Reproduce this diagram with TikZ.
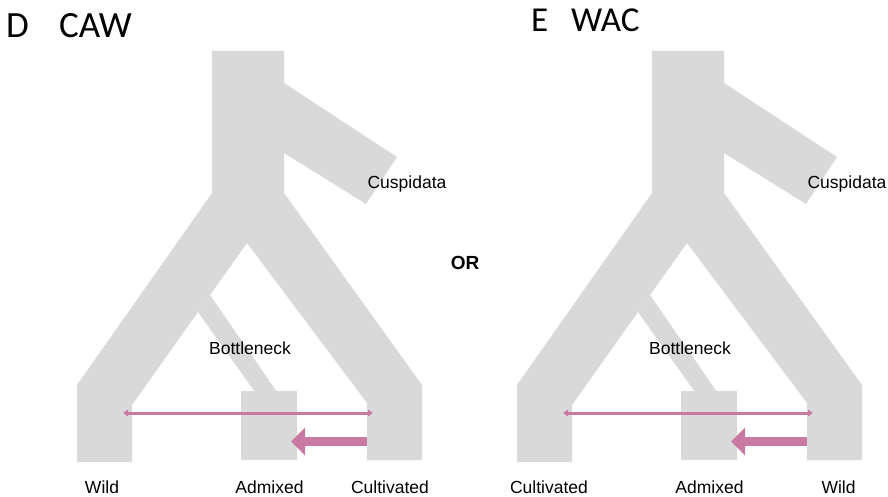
\documentclass[tikz,border=0pt]{standalone}
\usepackage{fontspec}
\setmainfont{Liberation Sans}
\newfontfamily\titlefont{Carlito}
\usetikzlibrary{positioning, arrows.meta}
\definecolor{branchgrey}{RGB}{217,217,217}
\definecolor{flowpink}{RGB}{200,122,162}
\tikzset{
	every node/.style ={anchor=base},
	branch/.style= {
		fill=branchgrey,
		draw=none
	},
	pop/.style= {
		font=\fontsize{17.5}{20}\selectfont
	},
	title/.style= {
		font=\titlefont\fontsize{37}{40}\selectfont,
		anchor=base west,
		inner sep=0
	},
	gene/.style={flowpink, line width=3pt, {Latex[length=5pt,width=8pt]}-{Latex[length=5pt,width=8pt]}},
	admix/.style={flowpink, line width=9pt, -{Triangle[length=14pt,width=27pt]}},
}

\begin{document}
\begin{tikzpicture}[x=1pt, y=-1pt]
	\useasboundingbox (0,0) rectangle (888,497);
	
	\node (labelD)[title] at (6,38) {D};
	\node (nameD)[title] at (59,38) {CAW};
	\node (labelE)[title, font=\titlefont\fontsize{35}{38}\selectfont] at (531,32) {E};
	\node (nameE)[title, font=\titlefont\fontsize{35}{38}\selectfont] at (571,32) {WAC};
	\node (or)[font=\bfseries\fontsize{19}{22}\selectfont] at (465,269) {OR};
	
	\foreach \p/\dx/\lname/\rname/\lx/\rx in {D/0/Wild/Cultivated/102/390, E/440/Cultivated/Wild/109/398.5}
	{
		\begin{scope}[shift={(\dx,0)}]
		% tree
		\fill[branch] (212,51) -- (284,51) -- (284,193) -- (422,385) -- (422,460) -- (367,460) -- (367,403) -- (247,243) -- (132,405) -- (132,462) -- (77,462) -- (77,385) -- (212,193) -- cycle;
		\fill[branch] (284,83) -- (397,157) -- (366,204) -- (284,153) -- cycle;
		\fill[branch] (210,295) -- (277,392) -- (255,392) -- (198,312) -- cycle;
		\fill[branch] (241,391) rectangle (297,460);
		
		\node (cusp\p)[pop] at (407,189) {Cuspidata};
		\node (bottle\p)[pop] at (250,354) {Bottleneck};
		\node (left\p)[pop] at (\lx,493) {\lname};
		\node (admixed\p)[pop] at (269.5,493) {Admixed};
		\node (right\p)[pop] at (\rx,493) {\rname};
		
		\coordinate (lleg\p) at (123,413);
		\coordinate (rleg\p) at (373,413);
		\coordinate (src\p) at (367,441.5);
		\coordinate (box\p) at (291,441.5);
		\draw[gene] (lleg\p) -- (rleg\p);
		\draw[admix] (src\p) -- (box\p);
		\end{scope}
	}
	
\end{tikzpicture}
\end{document}
